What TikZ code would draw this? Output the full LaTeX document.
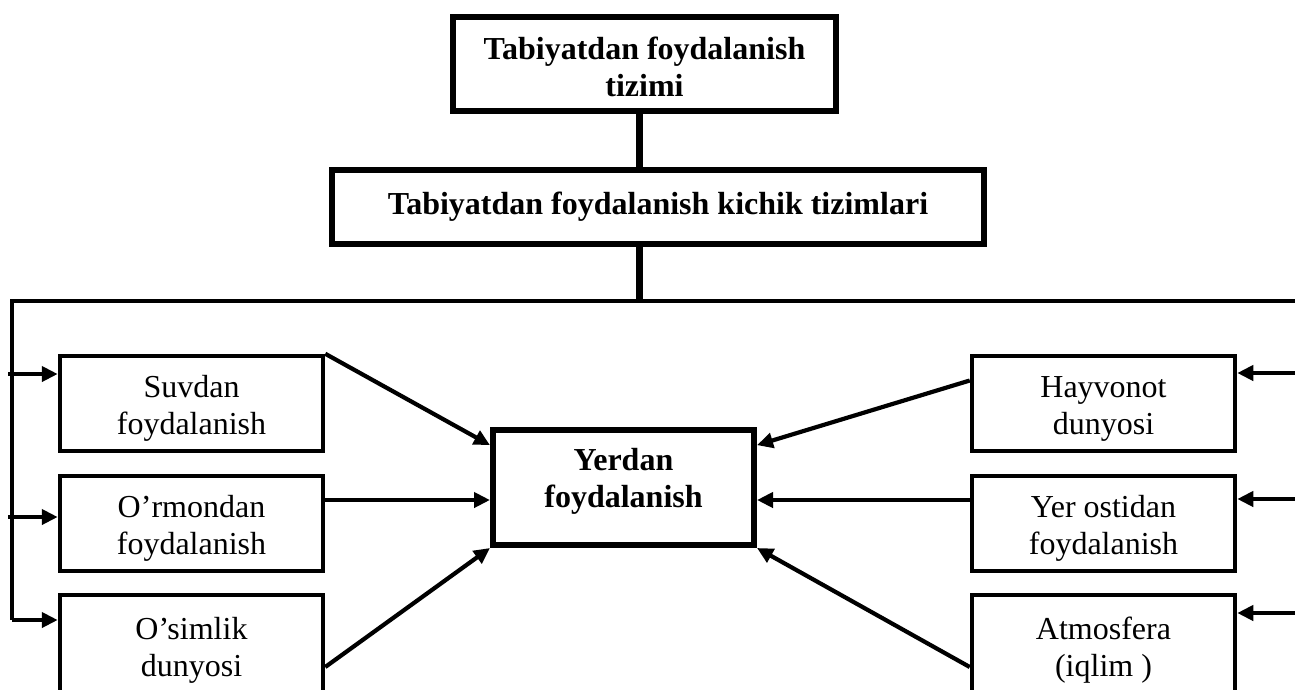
\documentclass[tikz,border=0pt]{standalone}
\usepackage{fontspec}
\setmainfont{Liberation Serif}
\usetikzlibrary{arrows.meta,calc}
\newcommand\myup[1]{\rule{0pt}{#1}}
\begin{document}
\begin{tikzpicture}[x=1pt,y=-1pt,
  base/.style={draw=black, inner sep=0pt, align=center, font=\fontsize{32}{37}\selectfont},
  sidebox/.style={base, line width=4.5pt, minimum width=263pt, minimum height=95pt},
  lowbox/.style={sidebox, minimum height=101pt},
  topbox/.style={base, line width=6pt, minimum width=383pt, minimum height=94pt, font=\fontsize{32}{37}\selectfont\bfseries},
  midbox/.style={base, line width=6pt, minimum width=652pt, minimum height=74pt, font=\fontsize{32}{37}\selectfont\bfseries},
  cbox/.style={base, line width=6pt, minimum width=261pt, minimum height=115pt, font=\fontsize{32}{37}\selectfont\bfseries},
  stem/.style={draw=black, line width=7pt},
  bus/.style={draw=black, line width=4.5pt, line join=miter},
  arr/.style={draw=black, line width=4.2pt, -{Triangle[length=16pt,width=15pt]}},
]
\fill[white] (0,0) rectangle (1295,689);
\clip (0,0) rectangle (1295,689);

% nodes
\node[topbox] (top) at (644.5,64) {\myup{29pt}Tabiyatdan foydalanish\\tizimi};
\node[midbox] (mid) at (658,207) {Tabiyatdan foydalanish kichik tizimlari};
\node[cbox] (c) at (623.5,487.5) {Yerdan\\foydalanish\rule[-20pt]{0pt}{0pt}};

\node[sidebox] (s1) at (191.5,403.5) {\myup{31pt}Suvdan\\foydalanish};
\node[sidebox] (s2) at (191.5,523.5) {\myup{31pt}O’rmondan\\foydalanish};
\node[lowbox] (s3) at (191.5,645.5) {\myup{31pt}O’simlik\\dunyosi\rule[-6pt]{0pt}{0pt}};

\node[sidebox] (r1) at (1103.5,403.5) {\myup{31pt}Hayvonot\\dunyosi};
\node[sidebox] (r2) at (1103.5,523.5) {\myup{31pt}Yer ostidan\\foydalanish};
\node[lowbox] (r3) at (1103.5,645.5) {\myup{31pt}Atmosfera\\(iqlim )\rule[-6pt]{0pt}{0pt}};

% stems
\coordinate (j) at (639,301);
\draw[stem] (top.south -| j) -- (mid.north -| j);
\draw[stem] (mid.south -| j) -- (j);

% bus
\coordinate (bl) at (12,301);
\coordinate (br) at (1300,301);
\coordinate (lb) at (12,620);
\coordinate (rb) at (1300,613);
\draw[bus] (br) -- (bl) -- (lb);
\draw[bus] (br) -- (rb);

% left arrows
\coordinate (la1) at (8,374);
\coordinate (la2) at (8,517);
\draw[arr] (la1) -- (la1 -| s1.west);
\draw[arr] (la2) -- (la2 -| s2.west);
\draw[arr] (lb) -- (lb -| s3.west);

% right arrows
\coordinate (ra1) at (1300,373);
\coordinate (ra2) at (1300,499);
\draw[arr] (ra1) -- (ra1 -| r1.east);
\draw[arr] (ra2) -- (ra2 -| r2.east);
\draw[arr] (rb) -- (rb -| r3.east);

% arrows into centre
\coordinate (m1) at (0,500);
\coordinate (m3) at (0,667);
\draw[arr] (s1.north east) -- ($(c.north west)!0.15!(c.south west)$);
\draw[arr] (m1 -| s2.east) -- (m1 -| c.west);
\draw[arr] (m3 -| s3.east) -- (c.south west);
\draw[arr] ($(r1.west)+(0,-23)$) -- ($(c.north east)!0.15!(c.south east)$);
\draw[arr] (m1 -| r2.west) -- (m1 -| c.east);
\draw[arr] (m3 -| r3.west) -- (c.south east);
\end{tikzpicture}
\end{document}
